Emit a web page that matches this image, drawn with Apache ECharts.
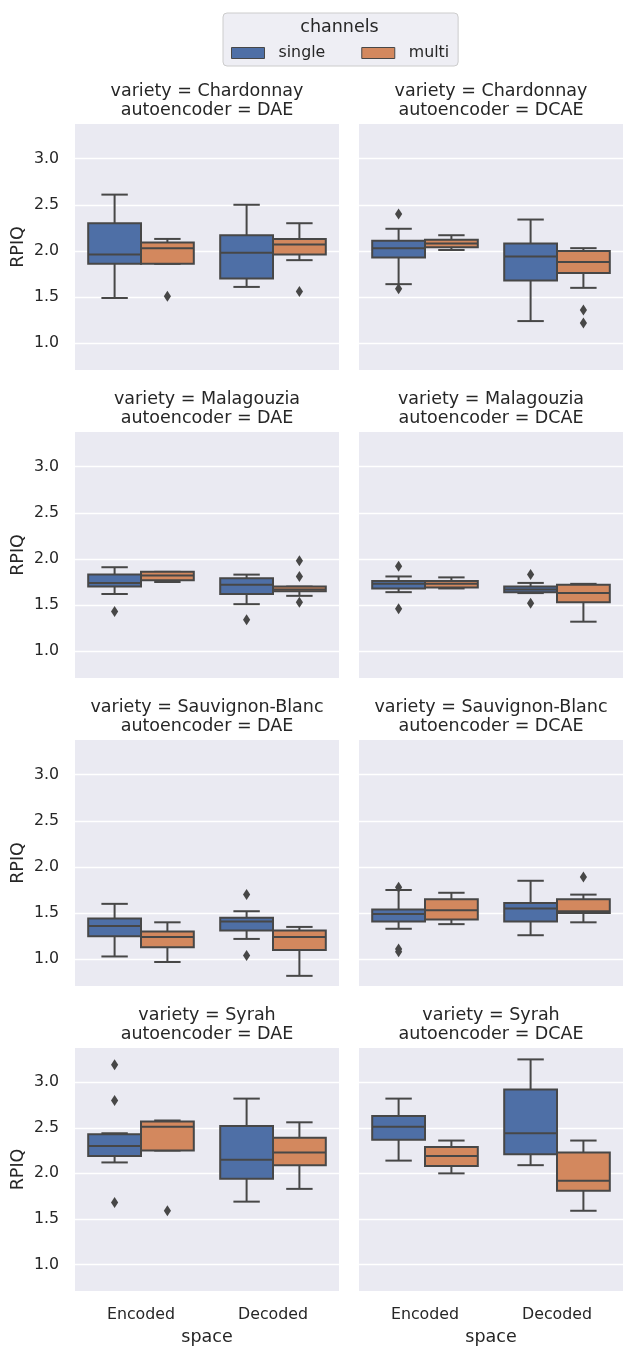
<!DOCTYPE html>
<html>
<head>
<meta charset="utf-8">
<script src="https://cdn.jsdelivr.net/npm/echarts@6/dist/echarts.min.js"></script>
<style>
  html, body { margin: 0; padding: 0; background: #fff; }
  #chart { width: 623px; height: 1347px; }
</style>
</head>
<body>
<div id="chart"></div>
<script>
var varieties = ['Chardonnay', 'Malagouzia', 'Sauvignon-Blanc', 'Syrah'];
var autoencoders = ['DAE', 'DCAE'];
var spaces = ['Encoded', 'Decoded'];
var channels = ['single', 'multi'];
var yTicks = [1.0, 1.5, 2.0, 2.5, 3.0];

// autoencoder, space, channel, low whisker, q1, median, q3, high whisker
var chardonnayBoxes = [
  ['DAE', 'Encoded', 'single', 1.49, 1.86, 1.96, 2.30, 2.61],
  ['DAE', 'Encoded', 'multi', 1.86, 1.86, 2.03, 2.09, 2.13],
  ['DAE', 'Decoded', 'single', 1.61, 1.70, 1.98, 2.17, 2.50],
  ['DAE', 'Decoded', 'multi', 1.90, 1.96, 2.07, 2.13, 2.30],
  ['DCAE', 'Encoded', 'single', 1.64, 1.93, 2.03, 2.11, 2.24],
  ['DCAE', 'Encoded', 'multi', 2.01, 2.04, 2.08, 2.12, 2.17],
  ['DCAE', 'Decoded', 'single', 1.24, 1.68, 1.94, 2.08, 2.34],
  ['DCAE', 'Decoded', 'multi', 1.60, 1.76, 1.88, 2.00, 2.03]
];
var malagouziaBoxes = [
  ['DAE', 'Encoded', 'single', 1.62, 1.70, 1.74, 1.83, 1.91],
  ['DAE', 'Encoded', 'multi', 1.75, 1.77, 1.82, 1.86, 1.86],
  ['DAE', 'Decoded', 'single', 1.51, 1.62, 1.72, 1.79, 1.83],
  ['DAE', 'Decoded', 'multi', 1.60, 1.65, 1.67, 1.70, 1.70],
  ['DCAE', 'Encoded', 'single', 1.64, 1.68, 1.73, 1.76, 1.81],
  ['DCAE', 'Encoded', 'multi', 1.68, 1.69, 1.73, 1.76, 1.80],
  ['DCAE', 'Decoded', 'single', 1.63, 1.64, 1.67, 1.70, 1.74],
  ['DCAE', 'Decoded', 'multi', 1.32, 1.53, 1.63, 1.72, 1.73]
];
var sauvignonBoxes = [
  ['DAE', 'Encoded', 'single', 1.03, 1.25, 1.36, 1.44, 1.60],
  ['DAE', 'Encoded', 'multi', 0.97, 1.13, 1.24, 1.30, 1.40],
  ['DAE', 'Decoded', 'single', 1.22, 1.31, 1.41, 1.45, 1.52],
  ['DAE', 'Decoded', 'multi', 0.82, 1.10, 1.24, 1.31, 1.35],
  ['DCAE', 'Encoded', 'single', 1.33, 1.41, 1.49, 1.54, 1.75],
  ['DCAE', 'Encoded', 'multi', 1.38, 1.43, 1.53, 1.65, 1.72],
  ['DCAE', 'Decoded', 'single', 1.26, 1.41, 1.55, 1.61, 1.85],
  ['DCAE', 'Decoded', 'multi', 1.40, 1.50, 1.52, 1.65, 1.70]
];
var syrahBoxes = [
  ['DAE', 'Encoded', 'single', 2.12, 2.19, 2.30, 2.43, 2.44],
  ['DAE', 'Encoded', 'multi', 2.25, 2.25, 2.51, 2.57, 2.58],
  ['DAE', 'Decoded', 'single', 1.69, 1.94, 2.15, 2.52, 2.82],
  ['DAE', 'Decoded', 'multi', 1.83, 2.09, 2.23, 2.39, 2.56],
  ['DCAE', 'Encoded', 'single', 2.14, 2.37, 2.51, 2.63, 2.82],
  ['DCAE', 'Encoded', 'multi', 2.00, 2.08, 2.19, 2.29, 2.36],
  ['DCAE', 'Decoded', 'single', 2.09, 2.21, 2.44, 2.92, 3.25],
  ['DCAE', 'Decoded', 'multi', 1.59, 1.81, 1.92, 2.23, 2.36]
];

// autoencoder, space, channel, value
var chardonnayOutliers = [
  ['DAE', 'Encoded', 'multi', 1.51],
  ['DAE', 'Decoded', 'multi', 1.56],
  ['DCAE', 'Encoded', 'single', 2.40],
  ['DCAE', 'Encoded', 'single', 1.59],
  ['DCAE', 'Decoded', 'multi', 1.36],
  ['DCAE', 'Decoded', 'multi', 1.22]
];
var malagouziaOutliers = [
  ['DAE', 'Encoded', 'single', 1.43],
  ['DAE', 'Decoded', 'single', 1.34],
  ['DAE', 'Decoded', 'multi', 1.98],
  ['DAE', 'Decoded', 'multi', 1.81],
  ['DAE', 'Decoded', 'multi', 1.53],
  ['DCAE', 'Encoded', 'single', 1.92],
  ['DCAE', 'Encoded', 'single', 1.46],
  ['DCAE', 'Decoded', 'single', 1.83],
  ['DCAE', 'Decoded', 'single', 1.52]
];
var sauvignonOutliers = [
  ['DAE', 'Decoded', 'single', 1.70],
  ['DAE', 'Decoded', 'single', 1.04],
  ['DCAE', 'Encoded', 'single', 1.78],
  ['DCAE', 'Encoded', 'single', 1.11],
  ['DCAE', 'Encoded', 'single', 1.08],
  ['DCAE', 'Decoded', 'multi', 1.89]
];
var syrahOutliers = [
  ['DAE', 'Encoded', 'single', 3.19],
  ['DAE', 'Encoded', 'single', 2.80],
  ['DAE', 'Encoded', 'single', 1.68],
  ['DAE', 'Encoded', 'multi', 1.59]
];

var boxTables = [chardonnayBoxes, malagouziaBoxes, sauvignonBoxes, syrahBoxes];
var outlierTables = [chardonnayOutliers, malagouziaOutliers, sauvignonOutliers, syrahOutliers];

var colors = ['#4e6fa6', '#d3885e'];
var lineGray = '#474747';
var textColor = '#262626';
var font = 'DejaVu Sans';

var chart = echarts.init(document.getElementById('chart'));

var colLeft = [75, 359];
var panelW = 264;
var rowTop = [124, 432, 740, 1048];
var panelH = 246;

var grids = [], xAxes = [], yAxes = [], titles = [], series = [];

function boxRenderer(ch) {
  return function (params, api) {
    var cat = api.value(0);
    var band = api.size([1, 0])[0];
    var w = band * 0.4;
    var cx = api.coord([cat, 0])[0] + (ch === 0 ? -0.5 : 0.5) * w;
    var yLow = api.coord([cat, api.value(1)])[1];
    var yQ1 = api.coord([cat, api.value(2)])[1];
    var yMed = api.coord([cat, api.value(3)])[1];
    var yQ3 = api.coord([cat, api.value(4)])[1];
    var yHigh = api.coord([cat, api.value(5)])[1];
    var ls = { stroke: lineGray, lineWidth: 2 };
    return {
      type: 'group',
      children: [
        { type: 'line', shape: { x1: cx, y1: yQ3, x2: cx, y2: yHigh }, style: ls },
        { type: 'line', shape: { x1: cx, y1: yQ1, x2: cx, y2: yLow }, style: ls },
        { type: 'line', shape: { x1: cx - w / 4, y1: yHigh, x2: cx + w / 4, y2: yHigh }, style: ls },
        { type: 'line', shape: { x1: cx - w / 4, y1: yLow, x2: cx + w / 4, y2: yLow }, style: ls },
        { type: 'rect', shape: { x: cx - w / 2, y: yQ3, width: w, height: yQ1 - yQ3 },
          style: { fill: colors[ch], stroke: lineGray, lineWidth: 2 } },
        { type: 'line', shape: { x1: cx - w / 2, y1: yMed, x2: cx + w / 2, y2: yMed }, style: ls }
      ]
    };
  };
}

function outlierRenderer(ch) {
  return function (params, api) {
    var cat = api.value(0);
    var band = api.size([1, 0])[0];
    var w = band * 0.4;
    var pt = api.coord([cat, api.value(1)]);
    var cx = pt[0] + (ch === 0 ? -0.5 : 0.5) * w;
    var cy = pt[1];
    return {
      type: 'polygon',
      shape: { points: [[cx, cy - 5.5], [cx + 3.6, cy], [cx, cy + 5.5], [cx - 3.6, cy]] },
      style: { fill: lineGray }
    };
  };
}

varieties.forEach(function (variety, r) {
  autoencoders.forEach(function (ae, c) {
    var gi = grids.length;
    var bottomRow = r === varieties.length - 1;
    grids.push({
      left: colLeft[c], top: rowTop[r], width: panelW, height: panelH,
      show: true, backgroundColor: '#eaeaf2', borderWidth: 0
    });
    xAxes.push({
      gridIndex: gi, type: 'category', data: spaces, boundaryGap: true,
      axisLine: { show: false }, axisTick: { show: false }, splitLine: { show: false },
      axisLabel: { show: bottomRow, color: textColor, fontSize: 15.8, fontFamily: font, margin: 16 },
      name: bottomRow ? 'space' : '', nameLocation: 'middle', nameGap: 37,
      nameTextStyle: { color: textColor, fontSize: 17.5, fontFamily: font }
    });
    yAxes.push({
      gridIndex: gi, type: 'value', min: 0.71, max: 3.375,
      axisLine: { show: false },
      axisTick: { show: false, customValues: yTicks },
      axisLabel: {
        show: c === 0, customValues: yTicks, color: textColor, fontSize: 15.8,
        fontFamily: font, margin: 16,
        formatter: function (v) { return v.toFixed(1); }
      },
      splitLine: { show: true, lineStyle: { color: '#ffffff', width: 1.4 } },
      name: c === 0 ? 'RPIQ' : '', nameLocation: 'middle', nameRotate: 90, nameGap: 48,
      nameTextStyle: { color: textColor, fontSize: 17.5, fontFamily: font }
    });
    titles.push({
      text: 'variety = ' + variety + '\nautoencoder = ' + ae,
      left: colLeft[c] + panelW / 2, top: rowTop[r] - 42, textAlign: 'center', padding: 0,
      textStyle: { color: textColor, fontSize: 17.5, fontWeight: 'normal', fontFamily: font, lineHeight: 19 }
    });
    channels.forEach(function (chName, ch) {
      var rows = boxTables[r].filter(function (d) { return d[0] === ae && d[2] === chName; });
      series.push({
        name: chName, type: 'custom', xAxisIndex: gi, yAxisIndex: gi,
        itemStyle: { color: colors[ch] },
        renderItem: boxRenderer(ch),
        encode: { x: 0, y: [1, 2, 3, 4, 5] },
        data: rows.map(function (d) { return [spaces.indexOf(d[1]), d[3], d[4], d[5], d[6], d[7]]; }),
        z: 3
      });
      var outs = outlierTables[r].filter(function (d) { return d[0] === ae && d[2] === chName; });
      series.push({
        name: chName + ' outliers', type: 'custom', xAxisIndex: gi, yAxisIndex: gi,
        renderItem: outlierRenderer(ch),
        encode: { x: 0, y: 1 },
        data: outs.map(function (d) { return [spaces.indexOf(d[1]), d[3]]; }),
        z: 4
      });
    });
  });
});

titles.push({
  text: 'channels', left: 339.5, top: 18, textAlign: 'center', padding: 0,
  textStyle: { color: textColor, fontSize: 17.5, fontWeight: 'normal', fontFamily: font }
});

var option = {
  animation: false,
  backgroundColor: '#ffffff',
  title: titles,
  legend: {
    left: 223, top: 13, orient: 'horizontal',
    padding: [32, 9, 5, 8],
    itemWidth: 33, itemHeight: 11, itemGap: 36,
    backgroundColor: '#eeeef4', borderColor: '#cccccc', borderWidth: 1, borderRadius: 4,
    textStyle: { color: textColor, fontSize: 15.8, fontFamily: font, padding: [0, 0, 0, 9] },
    data: channels.map(function (name, i) {
      return { name: name, icon: 'rect', itemStyle: { color: colors[i], borderColor: lineGray, borderWidth: 1 } };
    }),
    selectedMode: false
  },
  grid: grids,
  xAxis: xAxes,
  yAxis: yAxes,
  series: series
};

chart.setOption(option);
window.onresize = chart.resize;
</script>
</body>
</html>
